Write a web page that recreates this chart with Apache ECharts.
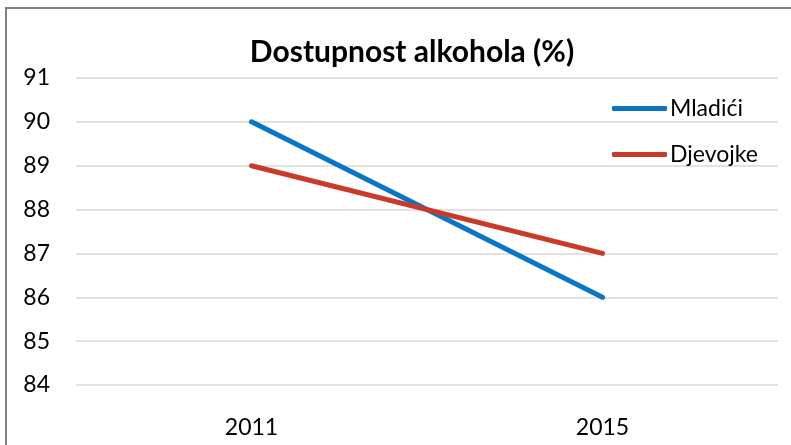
<!DOCTYPE html>
<html>
<head>
<meta charset="utf-8">
<script src="https://cdn.jsdelivr.net/npm/echarts@6/dist/echarts.min.js"></script>
<style>
html,body{margin:0;padding:0;background:#fff;}
#c{width:791px;height:445px;}
</style>
</head>
<body>
<div id="c"></div>
<script>
var titleText = 'Dostupnost alkohola (%)';
var categories = ['2011', '2015'];
var seriesNames = ['Mladići', 'Djevojke'];
var mladici = [90, 86];
var djevojke = [89, 87];
var yMin = 84, yMax = 91, yInterval = 1;

var chart = echarts.init(document.getElementById('c'), null, {renderer: 'canvas'});
var font = 'Lato, "Open Sans", sans-serif';
chart.setOption({
  backgroundColor: '#ffffff',
  animation: false,
  title: {
    text: titleText,
    left: 407,
    top: 32,
    textAlign: 'center',
    textStyle: {fontFamily: font, fontWeight: 'bold', fontSize: 30, color: '#000'}
  },
  legend: {
    orient: 'vertical',
    left: 612,
    top: 97,
    padding: 0,
    itemWidth: 55,
    itemHeight: 5,
    itemGap: 23,
    icon: 'roundRect',
    textStyle: {fontFamily: font, fontSize: 23, color: '#000', padding: [0,0,0,-2]},
    data: seriesNames
  },
  grid: {left: 76, right: 13, top: 78, bottom: 60, containLabel: false},
  xAxis: {
    type: 'category',
    data: categories,
    boundaryGap: true,
    axisLine: {show: false},
    axisTick: {show: false},
    axisLabel: {fontFamily: font, fontSize: 23, color: '#000', margin: 31}
  },
  yAxis: {
    type: 'value',
    min: yMin, max: yMax, interval: yInterval,
    axisLine: {show: false},
    axisTick: {show: false},
    axisLabel: {fontFamily: font, fontSize: 23, color: '#000', margin: 26},
    splitLine: {lineStyle: {color: '#d9d9d9', width: 1.5}}
  },
  graphic: [{
    type: 'rect',
    shape: {x: 6, y: 8, width: 900, height: 600},
    style: {fill: 'none', stroke: '#808080', lineWidth: 2},
    silent: true
  }],
  series: [
    {name: seriesNames[0], type: 'line', data: mladici, symbol: 'none',
     lineStyle: {color: '#0b74c3', width: 5, cap: 'round'}, itemStyle: {color: '#0b74c3'}},
    {name: seriesNames[1], type: 'line', data: djevojke, symbol: 'none',
     lineStyle: {color: '#c93a28', width: 5, cap: 'round'}, itemStyle: {color: '#c93a28'}}
  ]
});
</script>
</body>
</html>
